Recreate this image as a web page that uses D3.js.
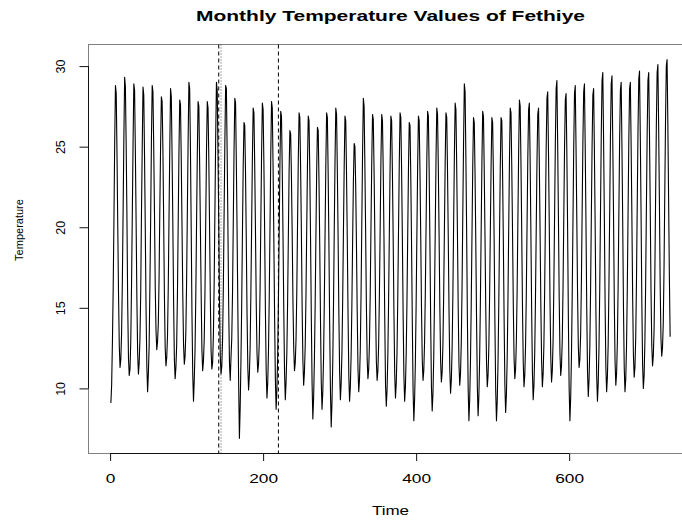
<!DOCTYPE html>
<html lang="en">
<head>
  <title>Monthly Temperature Values of Fethiye</title>
  <script src="https://d3js.org/d3.v7.min.js"></script>
  <style>
    body { margin: 0; background: #fff; }
    svg { display: block; font-family: "Liberation Sans", Arial, Helvetica, sans-serif; }
  </style>
</head>
<body>
    <div id="chart"></div>
    <script>
        // monthly values, one row per year (Jan..Dec)
        const temperature = [
            9.1, 10.2, 12.8, 16.1, 20.4, 25.3, 28.8, 28.3, 24.6, 20.1, 15.9, 12.6,
            11.3, 11.8, 13.4, 16.6, 21.0, 25.6, 29.3, 28.7, 25.1, 20.6, 15.2, 11.9,
            10.8, 11.2, 12.9, 16.4, 20.7, 25.2, 28.9, 28.5, 24.8, 20.3, 15.6, 12.2,
            10.9, 11.6, 13.1, 15.9, 20.9, 25.0, 28.7, 28.2, 24.4, 19.8, 14.9, 11.4,
            9.8, 10.9, 12.6, 16.3, 20.5, 25.4, 28.8, 28.4, 25.0, 20.9, 16.3, 13.6,
            12.4, 12.9, 14.0, 16.8, 21.2, 25.1, 28.1, 27.8, 24.9, 20.4, 15.7, 12.5,
            11.4, 11.9, 13.2, 16.2, 20.6, 24.9, 28.6, 28.1, 24.5, 20.2, 15.4, 11.8,
            10.6, 11.3, 12.7, 15.8, 20.3, 24.7, 27.9, 27.6, 24.2, 20.0, 15.8, 12.7,
            11.5, 12.0, 13.5, 16.7, 21.1, 25.5, 29.0, 28.6, 24.9, 19.9, 14.6, 10.9,
            9.2, 10.5, 12.4, 15.7, 20.2, 24.6, 27.8, 27.5, 24.1, 20.0, 15.9, 12.4,
            11.1, 11.7, 13.0, 16.0, 20.4, 24.8, 27.8, 27.4, 24.3, 20.1, 15.6, 12.3,
            11.2, 11.6, 13.3, 16.5, 21.0, 25.6, 29.0, 28.5, 24.7, 20.4, 15.3, 12.0,
            10.9, 11.4, 13.0, 16.2, 20.8, 25.3, 28.8, 28.6, 24.6, 20.0, 15.1, 11.6,
            10.5, 11.9, 13.1, 15.9, 20.3, 24.8, 28.0, 27.7, 24.0, 19.6, 14.8, 10.4,
            6.9, 8.8, 11.6, 15.2, 19.8, 23.9, 26.5, 26.3, 23.4, 19.2, 14.6, 11.3,
            9.9, 10.8, 12.5, 15.9, 20.1, 24.4, 27.4, 27.1, 23.9, 19.8, 15.3, 12.2,
            11.0, 11.5, 12.9, 16.1, 20.3, 24.6, 27.7, 27.3, 24.0, 19.7, 14.8, 11.1,
            9.4, 10.3, 12.3, 15.6, 20.0, 24.5, 27.8, 27.4, 23.8, 19.4, 14.5, 10.6,
            8.7, 9.9, 12.0, 15.4, 19.7, 24.1, 27.2, 26.9, 23.6, 19.5, 14.9, 11.0,
            9.3, 10.4, 12.2, 15.3, 19.5, 23.6, 26.0, 25.8, 23.2, 19.6, 15.4, 12.5,
            11.1, 11.6, 13.0, 15.9, 20.2, 24.3, 27.1, 26.8, 23.7, 19.8, 15.0, 11.7,
            10.2, 11.0, 12.6, 15.7, 19.9, 24.0, 26.9, 26.6, 23.5, 19.3, 14.4, 10.3,
            8.1, 9.4, 11.7, 15.1, 19.4, 23.5, 26.2, 26.0, 23.0, 18.9, 14.2, 10.4,
            8.7, 9.8, 11.9, 15.4, 19.8, 24.0, 27.1, 26.8, 23.4, 19.0, 13.9, 9.8,
            7.6, 9.1, 11.5, 15.2, 19.9, 24.2, 27.4, 27.0, 23.6, 19.4, 14.7, 11.0,
            9.3, 10.3, 12.2, 15.5, 19.8, 23.9, 26.9, 26.6, 23.4, 19.3, 14.6, 10.8,
            9.2, 10.1, 12.0, 15.1, 19.2, 22.9, 25.2, 25.0, 22.6, 18.9, 14.7, 11.2,
            9.8, 10.6, 12.4, 15.8, 20.3, 24.7, 28.0, 27.5, 23.9, 19.7, 15.1, 11.8,
            10.6, 11.2, 12.8, 15.9, 20.1, 24.1, 27.0, 26.7, 23.6, 19.6, 15.0, 11.7,
            10.5, 11.1, 12.7, 15.8, 20.0, 24.2, 27.0, 26.6, 23.5, 19.2, 14.3, 10.2,
            8.9, 9.9, 12.0, 15.4, 19.7, 23.9, 26.9, 26.6, 23.4, 19.3, 14.7, 10.9,
            9.4, 10.3, 12.2, 15.6, 19.9, 24.1, 27.1, 26.8, 23.6, 19.4, 14.6, 10.8,
            9.2, 10.1, 12.1, 15.3, 19.5, 23.7, 26.5, 26.3, 23.2, 19.0, 14.1, 9.9,
            8.0, 9.3, 11.6, 15.2, 19.6, 23.9, 26.9, 26.6, 23.5, 19.5, 15.0, 11.8,
            10.5, 11.1, 12.8, 15.9, 20.1, 24.3, 27.2, 26.9, 23.6, 19.2, 14.2, 10.1,
            8.6, 9.7, 11.9, 15.5, 19.9, 24.3, 27.4, 27.0, 23.7, 19.6, 15.0, 11.7,
            10.4, 11.0, 12.7, 15.8, 20.0, 24.2, 27.1, 26.8, 23.6, 19.4, 14.8, 11.2,
            9.7, 10.5, 12.4, 15.7, 20.2, 24.5, 27.7, 27.3, 23.9, 19.6, 15.0, 11.5,
            10.2, 10.9, 12.8, 16.2, 20.8, 25.3, 28.9, 28.4, 24.5, 19.8, 14.4, 10.0,
            8.0, 9.3, 11.6, 15.1, 19.5, 23.8, 26.8, 26.5, 23.3, 19.0, 14.2, 10.1,
            8.3, 9.5, 11.8, 15.4, 19.8, 24.1, 27.2, 26.9, 23.6, 19.5, 15.0, 11.6,
            10.1, 10.8, 12.5, 15.6, 19.8, 23.9, 26.8, 26.5, 23.3, 19.0, 14.0, 9.9,
            8.0, 9.2, 11.5, 15.1, 19.5, 23.8, 26.8, 26.6, 23.4, 19.1, 14.3, 10.2,
            8.5, 9.6, 11.8, 15.4, 19.9, 24.2, 27.4, 27.1, 23.8, 19.7, 15.2, 11.9,
            10.6, 11.2, 12.9, 16.0, 20.4, 24.7, 27.9, 27.5, 24.1, 19.8, 15.1, 11.6,
            10.1, 10.8, 12.6, 15.8, 20.2, 24.4, 27.3, 27.7, 24.2, 19.7, 14.8, 11.0,
            9.3, 10.2, 12.2, 15.6, 20.0, 24.2, 27.0, 27.4, 24.0, 19.8, 15.2, 11.7,
            10.1, 10.9, 12.7, 16.1, 20.6, 25.0, 28.0, 28.4, 24.7, 20.3, 15.4, 11.9,
            10.4, 11.1, 12.9, 16.3, 20.9, 25.4, 28.6, 29.1, 25.2, 20.6, 15.6, 12.2,
            10.8, 11.4, 13.0, 16.2, 20.6, 25.0, 27.9, 28.3, 24.6, 19.9, 14.3, 10.0,
            8.0, 9.4, 11.9, 15.7, 20.4, 25.0, 28.3, 28.8, 25.0, 20.6, 15.9, 12.6,
            11.3, 11.8, 13.3, 16.5, 21.0, 25.4, 28.4, 28.9, 25.0, 20.3, 15.0, 11.1,
            9.5, 10.5, 12.5, 16.0, 20.6, 25.1, 28.2, 28.6, 24.8, 20.1, 14.8, 10.8,
            9.2, 10.3, 12.5, 16.2, 21.0, 25.8, 29.1, 29.6, 25.5, 20.7, 15.3, 11.3,
            9.8, 10.7, 12.7, 16.3, 21.0, 25.7, 28.9, 29.4, 25.4, 20.8, 15.5, 11.7,
            10.2, 10.9, 12.8, 16.2, 20.9, 25.5, 28.5, 29.0, 25.1, 20.4, 15.1, 11.3,
            9.8, 10.6, 12.6, 16.1, 20.8, 25.4, 28.6, 29.0, 25.2, 20.7, 15.7, 12.1,
            10.7, 11.3, 13.1, 16.6, 21.4, 26.0, 29.2, 29.7, 25.7, 20.9, 15.4, 11.5,
            10.0, 10.8, 12.9, 16.5, 21.3, 25.9, 29.1, 29.6, 25.8, 21.2, 16.1, 12.7,
            11.4, 12.0, 13.6, 17.0, 21.8, 26.4, 29.6, 30.1, 26.2, 21.5, 16.4, 13.1,
            12.0, 12.5, 14.0, 17.3, 22.1, 26.7, 30.0, 30.4, 26.5, 21.8, 17.0, 13.2
        ];

        const xTicks = [0, 200, 400, 600];
        const yTicks = [10, 15, 20, 25, 30];
        // vertical reference lines (time index) and their line style
        const dashedLines = [142, 220];
        const dottedLines = [145];

        const width = 682, height = 522;
        const plot = {left: 88.5, right: 692.5, top: 44.5, bottom: 453.5};

        const svg = d3.select("#chart")
            .append("svg")
            .attr("width", width)
            .attr("height", height);

        const data = temperature.map((v, i) => ({t: i + 1, value: v}));

        // R style axis ranges: data extent padded by 4% on each side
        const n = data.length;
        const padX = 0.04 * (n - 1);
        const x = d3.scaleLinear()
            .domain([1 - padX, n + padX])
            .range([plot.left, plot.right]);

        const ext = d3.extent(temperature);
        const padY = 0.04 * (ext[1] - ext[0]);
        const y = d3.scaleLinear()
            .domain([ext[0] - padY, ext[1] + padY])
            .range([plot.bottom, plot.top]);

        // plot box
        svg.append("rect")
            .attr("x", plot.left)
            .attr("y", plot.top)
            .attr("width", plot.right - plot.left)
            .attr("height", plot.bottom - plot.top)
            .attr("fill", "none")
            .attr("stroke", "#808080")
            .attr("stroke-width", 1);

        // reference lines
        svg.append("g").selectAll("line.dash")
            .data(dashedLines)
            .enter().append("line")
            .attr("x1", d => x(d)).attr("x2", d => x(d))
            .attr("y1", plot.top).attr("y2", plot.bottom)
            .attr("stroke", "#000")
            .attr("stroke-dasharray", "4,3");
        svg.append("g").selectAll("line.dot")
            .data(dottedLines)
            .enter().append("line")
            .attr("x1", d => x(d)).attr("x2", d => x(d))
            .attr("y1", plot.top).attr("y2", plot.bottom)
            .attr("stroke", "#555")
            .attr("stroke-dasharray", "1,2");

        // the series
        svg.append("path")
            .datum(data)
            .attr("d", d3.line()
                .x(d => x(d.t))
                .y(d => y(d.value)))
            .attr("fill", "none")
            .attr("stroke", "#000")
            .attr("stroke-width", 1.1)
            .attr("stroke-linejoin", "round");

        // x axis
        const gx = svg.append("g")
            .attr("transform", `translate(0, ${plot.bottom})`)
            .call(d3.axisBottom(x).tickValues(xTicks).tickSize(7.5).tickFormat(d3.format("d")));
        gx.select(".domain").remove();
        gx.append("line")
            .attr("x1", x(xTicks[0])).attr("x2", x(xTicks[xTicks.length - 1]))
            .attr("stroke", "#111");
        gx.selectAll(".tick line").attr("stroke", "#111");
        gx.selectAll(".tick text")
            .attr("y", 30)
            .attr("dy", 0)
            .attr("fill", "#000")
            .attr("transform", "scale(1.33,1)")
            .style("font-size", "13px")
            .style("font-family", "Liberation Sans, Arial, sans-serif");

        // y axis
        const gy = svg.append("g")
            .attr("transform", `translate(${plot.left}, 0)`)
            .call(d3.axisLeft(y).tickValues(yTicks).tickSize(9));
        gy.select(".domain").remove();
        gy.append("line")
            .attr("y1", y(yTicks[0])).attr("y2", y(yTicks[yTicks.length - 1]))
            .attr("stroke", "#111");
        gy.selectAll(".tick line").attr("stroke", "#111");
        gy.selectAll(".tick text")
            .attr("transform", "rotate(-90)")
            .attr("x", 0)
            .attr("y", -23.5)
            .attr("dy", 0)
            .attr("text-anchor", "middle")
            .attr("fill", "#000")
            .style("font-size", "12.5px")
            .style("font-family", "Liberation Sans, Arial, sans-serif");

        // title and axis labels
        const cx = (plot.left + plot.right) / 2;
        svg.append("text")
            .attr("transform", `translate(${cx}, 21) scale(1.4,1)`)
            .attr("text-anchor", "middle")
            .style("font-size", "15px")
            .style("font-weight", "bold")
            .text("Monthly Temperature Values of Fethiye");

        svg.append("text")
            .attr("transform", `translate(${cx}, 515) scale(1.31,1)`)
            .attr("text-anchor", "middle")
            .style("font-size", "13px")
            .text("Time");

        svg.append("text")
            .attr("transform", "translate(22.5, 230) rotate(-90)")
            .attr("text-anchor", "middle")
            .style("font-size", "11px")
            .text("Temperature");
    </script>
</body>
</html>
